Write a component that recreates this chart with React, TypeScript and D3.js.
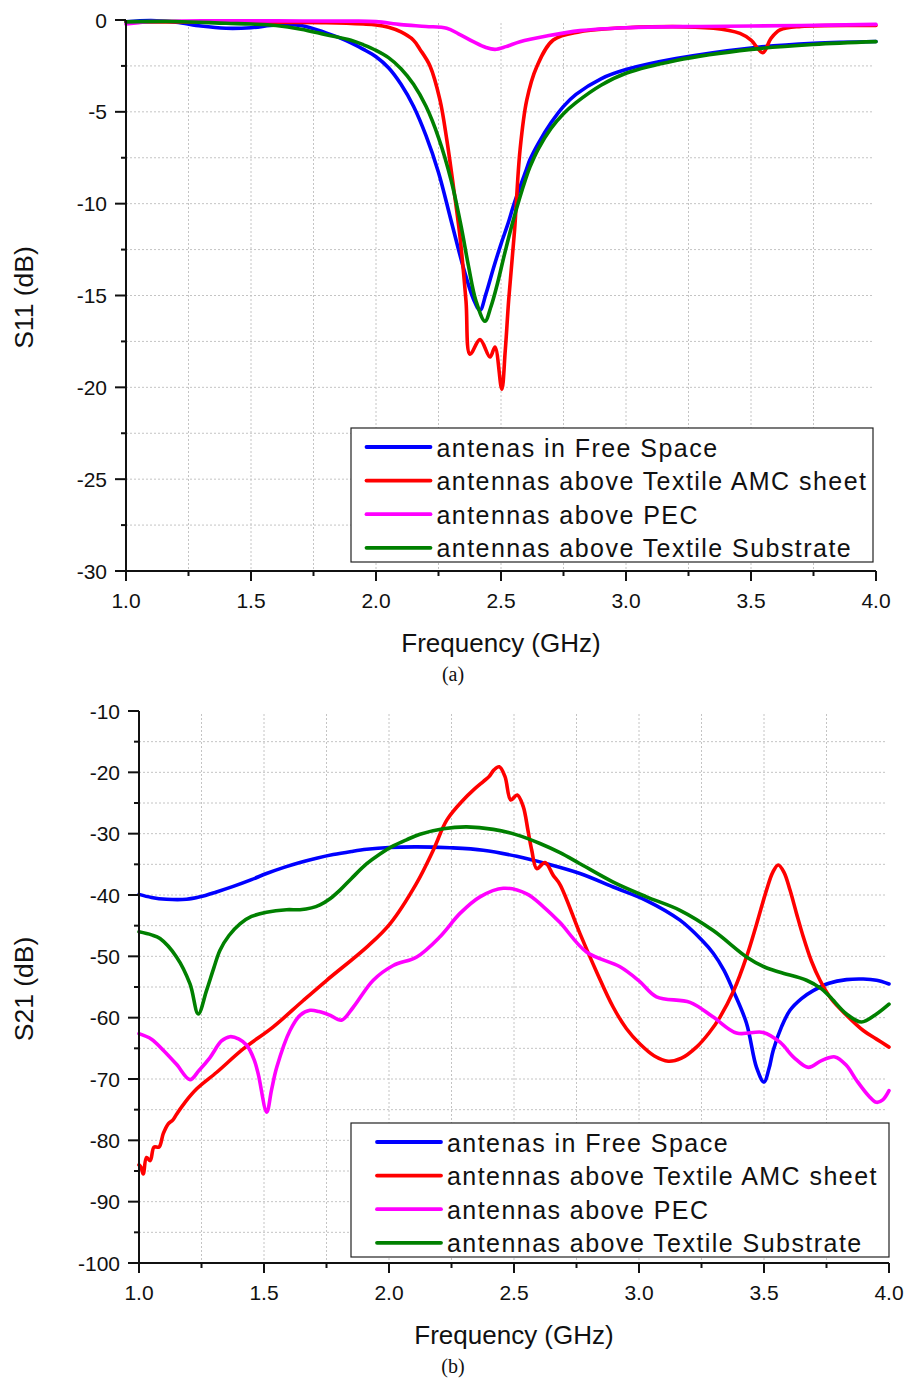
import React from "react";
import * as d3 from "d3";

// ---------- S11 data (panel a) ----------
const s11FreeF = [1.0,1.1,1.2,1.3,1.4,1.5,1.6,1.7,1.8,1.85,1.9,1.95,2.0,2.05,2.1,2.15,2.2,2.25,2.3,2.35,2.39,2.416,2.44,2.47,2.5,2.53,2.55,2.6,2.616,2.65,2.7,2.75,2.8,2.9,3.0,3.2,3.5,3.75,4.0];
const s11FreeV = [-0.1,-0.03,-0.12,-0.33,-0.45,-0.42,-0.27,-0.3,-0.7,-0.95,-1.25,-1.6,-2.0,-2.6,-3.5,-4.7,-6.3,-8.3,-10.9,-13.5,-15.2,-15.8,-14.9,-13.5,-12.2,-11.0,-10.1,-8.2,-7.6,-6.7,-5.6,-4.7,-4.05,-3.2,-2.7,-2.1,-1.52,-1.27,-1.17];

const s11AmcF = [1.0,1.5,1.8,1.95,2.0,2.05,2.1,2.149,2.176,2.216,2.256,2.283,2.31,2.336,2.36,2.376,2.416,2.456,2.476,2.503,2.517,2.531,2.554,2.576,2.603,2.643,2.709,2.816,3.0,3.35,3.456,3.5,3.547,3.58,3.616,3.7,4.0];
const s11AmcV = [-0.1,-0.12,-0.15,-0.22,-0.27,-0.4,-0.65,-1.09,-1.6,-2.5,-4.36,-6.5,-9.1,-11.8,-15.3,-18.2,-17.4,-18.35,-17.8,-20.1,-18.0,-15.2,-11.5,-7.1,-4.36,-2.54,-1.09,-0.64,-0.42,-0.45,-0.73,-1.1,-1.78,-1.0,-0.54,-0.35,-0.3];

const s11PecF = [1.0,1.05,1.1,1.3,1.6,1.9,2.0,2.1,2.2,2.283,2.33,2.389,2.44,2.476,2.52,2.576,2.683,2.816,3.0,3.3,3.7,4.0];
const s11PecV = [-0.22,-0.15,-0.08,-0.05,-0.05,-0.06,-0.09,-0.25,-0.35,-0.45,-0.75,-1.18,-1.5,-1.6,-1.45,-1.18,-0.87,-0.58,-0.42,-0.35,-0.3,-0.24];

const s11SubF = [1.0,1.2,1.4,1.5,1.6,1.7,1.8,1.9,1.95,2.0,2.05,2.1,2.15,2.2,2.25,2.3,2.34,2.37,2.4,2.436,2.46,2.483,2.515,2.549,2.6,2.616,2.65,2.7,2.75,2.8,2.9,3.0,3.2,3.5,3.75,4.0];
const s11SubV = [-0.1,-0.08,-0.18,-0.22,-0.3,-0.5,-0.8,-1.1,-1.35,-1.65,-2.05,-2.65,-3.5,-4.7,-6.4,-8.7,-11.2,-13.4,-15.3,-16.4,-15.6,-14.5,-12.7,-10.9,-8.6,-8.0,-7.0,-5.9,-5.1,-4.5,-3.55,-2.9,-2.2,-1.6,-1.33,-1.18];

// ---------- S21 data (panel b) ----------
const s21FreeF = [1.0,1.05,1.11,1.19,1.244,1.31,1.377,1.45,1.51,1.58,1.644,1.71,1.777,1.85,1.911,2.0,2.111,2.244,2.377,2.511,2.63,2.764,2.897,3.03,3.164,3.25,3.297,3.34,3.377,3.43,3.47,3.5,3.52,3.537,3.57,3.604,3.65,3.697,3.76,3.83,3.897,3.95,4.0];
const s21FreeV = [-39.9,-40.4,-40.7,-40.7,-40.3,-39.5,-38.6,-37.5,-36.5,-35.5,-34.7,-34.0,-33.4,-32.9,-32.55,-32.25,-32.15,-32.3,-32.7,-33.7,-34.9,-36.5,-38.7,-40.9,-44.1,-47.3,-49.5,-52.3,-55.6,-60.9,-68.1,-70.5,-68.3,-65.3,-61.5,-58.8,-56.9,-55.6,-54.4,-53.8,-53.7,-53.9,-54.5];

const s21AmcF = [1.0,1.008,1.017,1.03,1.045,1.06,1.08,1.097,1.117,1.135,1.151,1.184,1.231,1.311,1.417,1.537,1.657,1.751,1.911,2.004,2.11,2.177,2.231,2.297,2.337,2.377,2.4,2.42,2.441,2.464,2.487,2.513,2.537,2.556,2.571,2.591,2.624,2.657,2.684,2.764,2.83,2.897,2.95,3.004,3.06,3.117,3.17,3.23,3.28,3.324,3.38,3.43,3.47,3.51,3.535,3.557,3.58,3.604,3.63,3.657,3.69,3.724,3.77,3.83,3.897,3.95,4.0];
const s21AmcV = [-84.0,-84.4,-85.5,-82.8,-83.3,-81.1,-81.1,-78.9,-77.3,-76.7,-75.7,-73.8,-71.6,-68.9,-65.1,-61.5,-57.2,-53.9,-48.5,-44.7,-38.1,-32.7,-27.8,-24.5,-22.9,-21.5,-20.7,-19.6,-19.1,-20.7,-24.5,-23.7,-25.6,-29.5,-32.7,-35.7,-34.7,-36.8,-38.3,-46.3,-52.5,-58.3,-61.8,-64.3,-66.2,-67.1,-66.6,-64.8,-62.5,-59.9,-55.5,-50.1,-44.8,-39.2,-36.3,-35.1,-36.3,-39.2,-43.0,-46.8,-50.8,-53.9,-57.0,-59.6,-62.1,-63.5,-64.8];

const s21PecF = [1.0,1.05,1.097,1.15,1.204,1.24,1.284,1.33,1.364,1.4,1.431,1.46,1.477,1.511,1.53,1.551,1.604,1.645,1.684,1.72,1.764,1.81,1.857,1.937,2.017,2.111,2.204,2.284,2.364,2.457,2.551,2.62,2.684,2.79,2.924,3.0,3.07,3.204,3.297,3.39,3.497,3.564,3.62,3.677,3.73,3.784,3.83,3.87,3.92,3.95,3.975,4.0];
const s21PecV = [-62.6,-63.5,-65.3,-67.6,-70.1,-68.6,-66.5,-63.8,-63.1,-63.5,-64.5,-66.8,-69.2,-75.4,-71.8,-68.1,-62.1,-59.6,-58.8,-59.0,-59.6,-60.4,-58.3,-53.9,-51.5,-50.1,-46.8,-43.0,-40.3,-38.9,-39.8,-42.0,-44.5,-49.3,-51.7,-54.0,-56.6,-57.5,-59.9,-62.5,-62.4,-64.0,-66.5,-68.1,-67.0,-66.4,-67.8,-70.2,-72.8,-73.8,-73.4,-71.9];

const s21SubF = [1.0,1.05,1.084,1.15,1.204,1.237,1.27,1.3,1.324,1.36,1.404,1.45,1.51,1.59,1.644,1.69,1.724,1.764,1.804,1.85,1.911,1.964,2.017,2.07,2.124,2.217,2.311,2.417,2.511,2.604,2.684,2.764,2.897,3.03,3.164,3.297,3.43,3.5,3.564,3.67,3.73,3.764,3.83,3.89,3.95,4.0];
const s21SubV = [-46.0,-46.5,-47.1,-50.1,-54.5,-59.4,-55.6,-51.8,-49.0,-46.6,-44.7,-43.5,-42.8,-42.4,-42.4,-42.1,-41.6,-40.6,-39.2,-37.3,-34.9,-33.3,-32.0,-31.0,-30.1,-29.2,-28.9,-29.3,-30.2,-31.6,-33.1,-34.9,-37.9,-40.3,-42.5,-45.8,-50.1,-51.7,-52.6,-53.9,-55.3,-56.6,-59.4,-60.7,-59.4,-57.8];

// ---------- labels ----------
const seriesNames = [
  "antenas in Free Space",
  "antennas above Textile AMC sheet",
  "antennas above PEC",
  "antennas above Textile Substrate",
];
const seriesColors = ["#0000ff", "#ff0000", "#ff00ff", "#008000"];
const xTickValues = [1.0, 1.5, 2.0, 2.5, 3.0, 3.5, 4.0];
const s11TickValues = [0, -5, -10, -15, -20, -25, -30];
const s21TickValues = [-10, -20, -30, -40, -50, -60, -70, -80, -90, -100];

const FONT = "Arial, 'Liberation Sans', sans-serif";

type Panel = {
  left: number; right: number; top: number; bottom: number;
  yDomain: [number, number]; yTicks: number[]; yMinorStep: number;
  series: { f: number[]; v: number[] }[];
  yTitle: string; caption: string;
  legend: { x: number; y: number; w: number; h: number; lineX: number; rowY0: number; rowDy: number };
};

function zip(f: number[], v: number[]) {
  return f.map((x, i) => [x, v[i]] as [number, number]);
}

function PanelView({ p }: { p: Panel }) {
  const x = d3.scaleLinear().domain([1, 4]).range([p.left, p.right]);
  const y = d3.scaleLinear().domain(p.yDomain).range([p.bottom, p.top]);
  const line = d3.line<[number, number]>()
    .x((d) => x(d[0]))
    .y((d) => y(d[1]))
    .curve(d3.curveCatmullRom.alpha(0.5));

  const xMinor = d3.range(1, 4.0001, 0.25);
  const yMinor = d3.range(p.yDomain[0], p.yDomain[1] + 0.0001, p.yMinorStep);
  const isMajorX = (v: number) => Math.abs(v * 2 - Math.round(v * 2)) < 1e-6;
  const isMajorY = (v: number) => p.yTicks.some((t) => Math.abs(t - v) < 1e-6);
  const cx = (p.left + p.right) / 2;
  const cy = (p.top + p.bottom) / 2;
  const lg = p.legend;

  return (
    <g>
      {/* grid */}
      <g stroke="#c4c4c4" strokeWidth={1} strokeDasharray="2,2">
        {xMinor.filter((v) => v > 1.001 && v < 3.999).map((v) => (
          <line key={"gx" + v} x1={x(v)} x2={x(v)} y1={p.top + 3} y2={p.bottom} />
        ))}
        {yMinor.filter((v) => v > p.yDomain[0] + 0.01 && v < p.yDomain[1] - 0.01).map((v) => (
          <line key={"gy" + v} x1={p.left} x2={p.right - 2} y1={y(v)} y2={y(v)} />
        ))}
      </g>
      {/* curves */}
      <g fill="none" strokeWidth={3.6} strokeLinejoin="round" strokeLinecap="round">
        {p.series.map((s, i) => (
          <path key={i} d={line(zip(s.f, s.v)) || ""} stroke={seriesColors[i]} />
        ))}
      </g>
      {/* axes */}
      <g stroke="#111" strokeWidth={2}>
        <line x1={p.left} x2={p.left} y1={p.top} y2={p.bottom + 1} />
        <line x1={p.left - 1} x2={p.right} y1={p.bottom} y2={p.bottom} />
        {yMinor.map((v) => (
          <line key={"ty" + v} x1={p.left - (isMajorY(v) ? 11 : 5)} x2={p.left} y1={y(v)} y2={y(v)} />
        ))}
        {xMinor.map((v) => (
          <line key={"tx" + v} x1={x(v)} x2={x(v)} y1={p.bottom} y2={p.bottom + (isMajorX(v) ? 10 : 5)} />
        ))}
      </g>
      <g fontFamily={FONT} fontSize={21} fill="#111">
        {p.yTicks.map((v) => (
          <text key={"ly" + v} x={p.left - 19} y={y(v) + 7.5} textAnchor="end">{String(v)}</text>
        ))}
        {xTickValues.map((v) => (
          <text key={"lx" + v} x={x(v)} y={p.bottom + 36.5} textAnchor="middle">{d3.format(".1f")(v)}</text>
        ))}
      </g>
      <text x={cx} y={p.bottom + 81} textAnchor="middle" fontFamily={FONT} fontSize={26} fill="#111">Frequency (GHz)</text>
      <text transform={`translate(${33},${cy + 2}) rotate(-90)`} textAnchor="middle" fontFamily={FONT} fontSize={26.5} fill="#111">{p.yTitle}</text>
      <text x={453} y={p.bottom + 110} textAnchor="middle" fontFamily="'Times New Roman', 'Liberation Serif', serif" fontSize={20} fill="#111">{p.caption}</text>
      {/* legend */}
      <rect x={lg.x} y={lg.y} width={lg.w} height={lg.h} fill="#fff" stroke="#222" strokeWidth={1.2} />
      {seriesNames.map((n, i) => {
        const ry = lg.rowY0 + i * lg.rowDy;
        return (
          <g key={n}>
            <line x1={lg.lineX} x2={lg.lineX + 64} y1={ry} y2={ry} stroke={seriesColors[i]} strokeWidth={3.8} strokeLinecap="round" />
            <text x={lg.lineX + 70} y={ry + 9.5} fontFamily={FONT} fontSize={25} letterSpacing={1.45} fill="#111">{n}</text>
          </g>
        );
      })}
    </g>
  );
}

const panelA: Panel = {
  left: 126, right: 876, top: 20, bottom: 571,
  yDomain: [-30, 0], yTicks: s11TickValues, yMinorStep: 2.5,
  series: [
    { f: s11FreeF, v: s11FreeV },
    { f: s11AmcF, v: s11AmcV },
    { f: s11PecF, v: s11PecV },
    { f: s11SubF, v: s11SubV },
  ],
  yTitle: "S11 (dB)", caption: "(a)",
  legend: { x: 351, y: 428, w: 522, h: 134, lineX: 366.5, rowY0: 447, rowDy: 33.6 },
};

const panelB: Panel = {
  left: 139, right: 889, top: 711, bottom: 1263,
  yDomain: [-100, -10], yTicks: s21TickValues, yMinorStep: 5,
  series: [
    { f: s21FreeF, v: s21FreeV },
    { f: s21AmcF, v: s21AmcV },
    { f: s21PecF, v: s21PecV },
    { f: s21SubF, v: s21SubV },
  ],
  yTitle: "S21 (dB)", caption: "(b)",
  legend: { x: 351, y: 1123, w: 538, h: 134, lineX: 377, rowY0: 1142, rowDy: 33.6 },
};

export default function App() {
  return (
    <svg width={905} height={1378} style={{ position: "absolute", left: 0, top: 0, background: "#fff" }}>
      <rect x={0} y={0} width={905} height={1378} fill="#fff" />
      <PanelView p={panelA} />
      <PanelView p={panelB} />
    </svg>
  );
}
